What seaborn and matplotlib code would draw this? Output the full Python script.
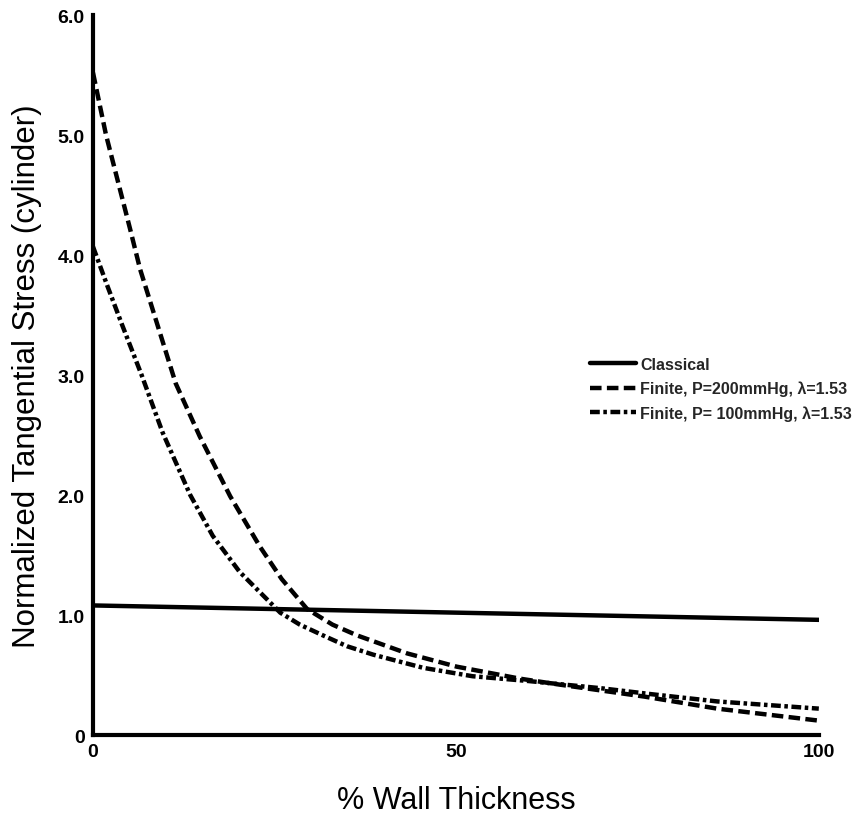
import matplotlib
matplotlib.use("Agg")
import matplotlib.pyplot as plt
import seaborn as sns
import pandas as pd

sns.set_theme(style="white")
plt.rcParams['font.family'] = ['Liberation Sans', 'DejaVu Sans']

# ---- data ----
classical_x = [0, 25, 50, 75, 100]
classical_y = [1.08, 1.05, 1.02, 0.99, 0.96]

p200_x = [0, 1.8, 5.1, 6.5, 11.4, 14.7, 18.9, 23, 26, 29.5, 33, 36.4, 43.3, 50.1, 58.8, 64.3, 76, 86, 100]
p200_y = [5.52, 5.0, 4.22, 3.88, 2.93, 2.49, 1.99, 1.57, 1.30, 1.05, 0.92, 0.83, 0.68, 0.57, 0.47, 0.42, 0.32, 0.22, 0.12]

p100_x = [0, 2, 4, 6.7, 9.6, 13.4, 16.5, 20.2, 25.8, 28.5, 31.7, 35, 38.6, 45.5, 52.3, 60, 70, 77, 86, 100]
p100_y = [4.07, 3.74, 3.42, 3.0, 2.52, 2.0, 1.66, 1.36, 1.02, 0.92, 0.83, 0.74, 0.67, 0.56, 0.49, 0.45, 0.39, 0.34, 0.28, 0.22]

series_names = ["Classical",
                "Finite, P=200mmHg, \u03bb=1.53",
                "Finite, P= 100mmHg, \u03bb=1.53"]
x_ticks = [0, 50, 100]
x_ticklabels = ["0", "50", "100"]
y_ticks = [0, 1, 2, 3, 4, 5, 6]
y_ticklabels = ["0", "1.0", "2.0", "3.0", "4.0", "5.0", "6.0"]

df = pd.concat([
    pd.DataFrame({"x": classical_x, "y": classical_y, "series": series_names[0]}),
    pd.DataFrame({"x": p200_x, "y": p200_y, "series": series_names[1]}),
    pd.DataFrame({"x": p100_x, "y": p100_y, "series": series_names[2]}),
], ignore_index=True)

fig = plt.figure(figsize=(8.61, 8.20), dpi=100)
ax = fig.add_axes([0.108, 0.1024, 0.843, 0.878])

sns.lineplot(data=df, x="x", y="y", style="series", hue="series",
             palette=["black", "black", "black"],
             dashes={series_names[0]: "",
                     series_names[1]: (2.6, 1.2),
                     series_names[2]: (2.2, 0.8, 0.8, 0.8)},
             style_order=series_names, hue_order=series_names,
             linewidth=3.2, sort=False, estimator=None, ax=ax, legend=True)

ax.set_xlim(0, 100)
ax.set_ylim(0, 6)
ax.set_xticks(x_ticks)
ax.set_xticklabels(x_ticklabels)
ax.set_yticks(y_ticks)
ax.set_yticklabels(y_ticklabels)
for s in ["top", "right"]:
    ax.spines[s].set_visible(False)
for s in ["left", "bottom"]:
    ax.spines[s].set_color("black")
    ax.spines[s].set_linewidth(3.0)
ax.tick_params(axis="both", direction="in", length=9, width=2, colors="black",
               labelsize=14)
ax.tick_params(axis="y", pad=6)
ax.tick_params(axis="x", pad=6)
for lab in ax.get_xticklabels() + ax.get_yticklabels():
    lab.set_fontweight("bold")

ax.set_xlabel("% Wall Thickness", fontsize=22, color="black", labelpad=18)
ax.set_ylabel("Normalized Tangential Stress (cylinder)", fontsize=22.5, color="black", labelpad=11)

leg = ax.legend(loc="upper left", bbox_to_anchor=(590 / 861, 1 - 358 / 820),
                bbox_transform=fig.transFigure, frameon=False,
                handlelength=2.9, handletextpad=0.25, labelspacing=0.55,
                borderaxespad=0, borderpad=0,
                prop={"size": 11.5, "weight": "bold"})
for line in leg.get_lines():
    line.set_linewidth(3.2)

fig.savefig("out.png", dpi=100)
